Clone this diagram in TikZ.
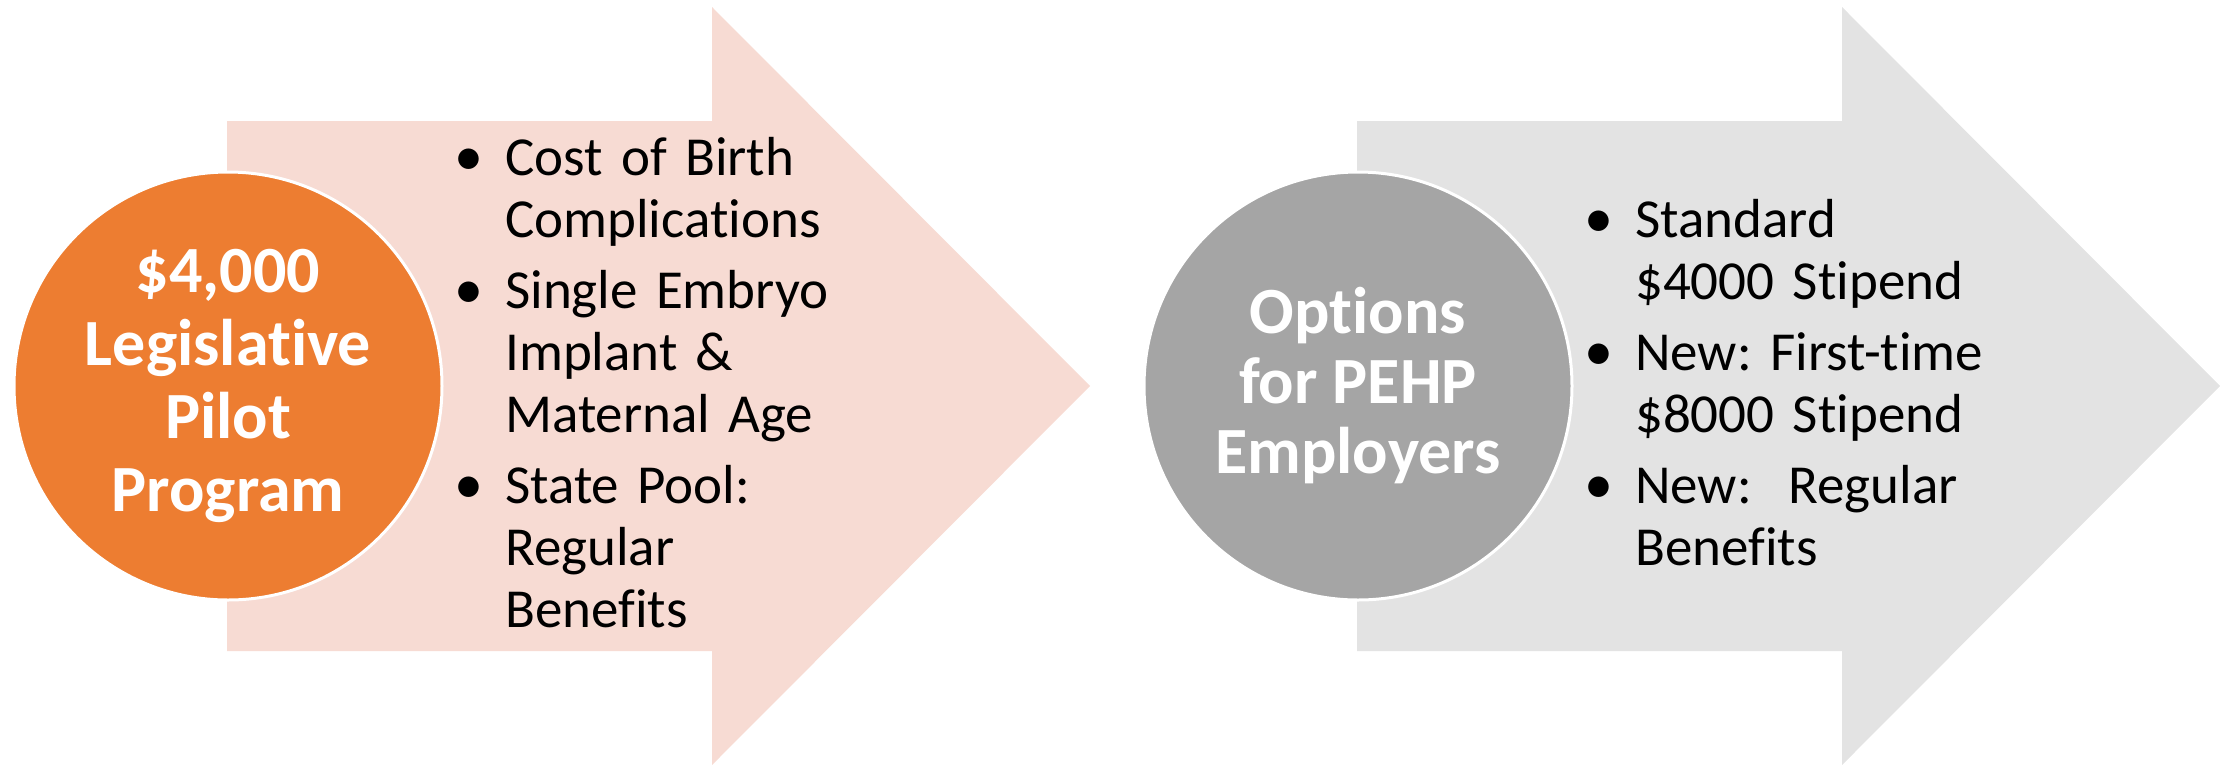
\documentclass[tikz,border=0pt]{standalone}
\usepackage{fontspec}
\setmainfont{Carlito}[Ligatures=NoCommon]
\definecolor{pilotorange}{HTML}{ED7D31}
\definecolor{pilotpink}{HTML}{F7DBD3}
\definecolor{optgray}{HTML}{A5A5A5}
\definecolor{optlight}{HTML}{E3E3E3}
\protected\def\itemfont{\fontsize{55}{62}\selectfont\frenchspacing\spaceskip=0.22em\relax}
\tikzset{
  circ/.style={circle, draw=white, line width=3pt, minimum size=428pt, inner sep=0pt, text=white, align=center},
  item/.style={anchor=base west, text width=440pt, align=left, inner sep=0pt, font=\itemfont},
  dot/.style={anchor=base, inner sep=0pt, font=\fontsize{58}{62}\selectfont}
}
\begin{document}
\begin{tikzpicture}[x=1pt,y=-1pt]
\useasboundingbox (0,0) rectangle (2233,764);
% left arrow
\fill[pilotpink] (227,121) -- (712,121) -- (712,7) -- (1090,386) -- (712,765) -- (712,651) -- (227,651) -- cycle;
\node[circ, fill=pilotorange, font=\fontsize{66}{73}\bfseries] (pilot) at (228,386) {\$4,000\\Legislative\\Pilot\\Program};
\node[item] (cost) at (505,175) {Cost of Birth\\Complications};
\node[item] (embryo) at (505,308) {Single Embryo\\Implant \&\\Maternal Age};
\node[item] (pool) at (505,503) {State Pool:\\Regular\\Benefits};
\node[dot] at ([xshift=-36]cost.base west) {\textbullet};
\node[dot] at ([xshift=-36]embryo.base west) {\textbullet};
\node[dot] at ([xshift=-36]pool.base west) {\textbullet};
% right arrow
\fill[optlight] (1357,121) -- (1842,121) -- (1842,7) -- (2220,386) -- (1842,765) -- (1842,651) -- (1357,651) -- cycle;
\node[circ, fill=optgray, font=\fontsize{66}{70}\bfseries] (options) at (1358,386) {Options\\for PEHP\\Employers};
\node[item] (standard) at (1635,237) {Standard\\\$4000 Stipend};
\node[item] (firsttime) at (1635,370) {New: First-time\\\$8000 Stipend};
\node[item] (regular) at (1635,503) {New:\ \ Regular\\Benefits};
\node[dot] at ([xshift=-36]standard.base west) {\textbullet};
\node[dot] at ([xshift=-36]firsttime.base west) {\textbullet};
\node[dot] at ([xshift=-36]regular.base west) {\textbullet};
\end{tikzpicture}
\end{document}
